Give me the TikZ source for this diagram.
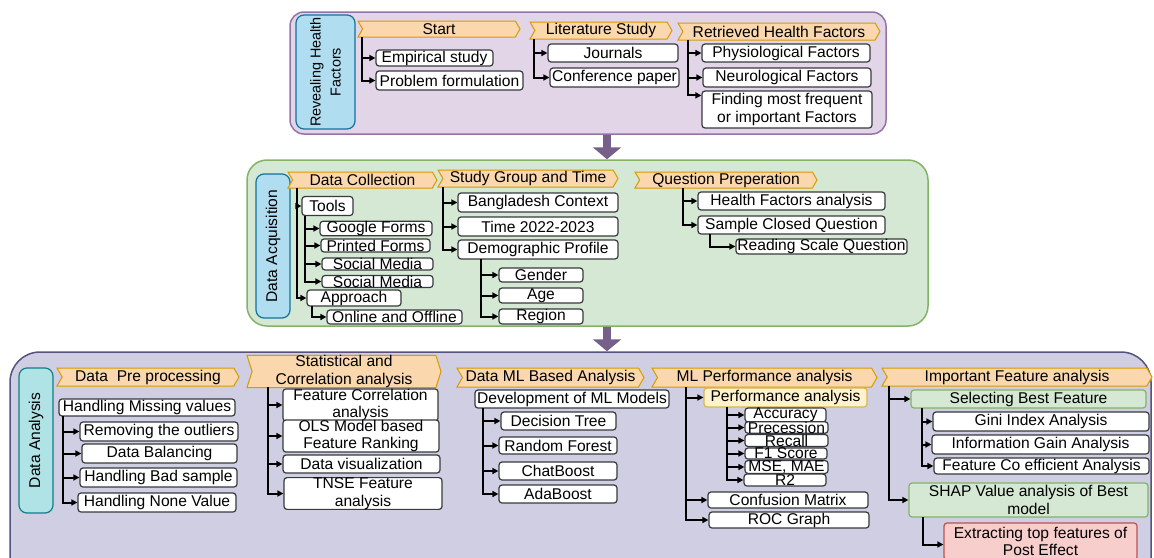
\documentclass[tikz,border=0pt]{standalone}
\usepackage{fontspec}
\setmainfont{Liberation Sans}
\usepackage{tikz}
\usetikzlibrary{arrows.meta,shapes.symbols}

\definecolor{revfill}{HTML}{E1D5E7}
\definecolor{revline}{HTML}{9673A6}
\definecolor{acqfill}{HTML}{D5E8D4}
\definecolor{acqline}{HTML}{82B366}
\definecolor{anafill}{HTML}{D0CEE2}
\definecolor{analine}{HTML}{56517E}
\definecolor{bluefill}{HTML}{B1DDF0}
\definecolor{blueline}{HTML}{10739E}
\definecolor{tealfill}{HTML}{B0E3E6}
\definecolor{tealline}{HTML}{0E8088}
\definecolor{hdrfill}{HTML}{FAD7AC}
\definecolor{hdrline}{HTML}{D79B00}
\definecolor{yelfill}{HTML}{FFF2CC}
\definecolor{yelline}{HTML}{D6B656}
\definecolor{redfill}{HTML}{F8CECC}
\definecolor{redline}{HTML}{B85450}
\definecolor{dnarrow}{HTML}{76608A}
\definecolor{boxline}{HTML}{36393D}

\begin{document}
\begin{tikzpicture}[x=0.5pt,y=-0.5pt,>={Triangle[length=3pt,width=3pt]},
  every node/.style={font=\fontsize{7.8}{8.8}\selectfont},
  sz/.style 2 args={minimum width=#1*0.5pt,minimum height=#2*0.5pt},
  panel/.style={line width=0.75pt,inner sep=0pt},
  side/.style={line width=0.6pt,rounded corners=4pt,rotate=90,align=center,inner sep=0pt},
  hdr/.style={shape=signal,signal from=west,signal to=east,signal pointer angle=120,
    draw=hdrline,fill=hdrfill,line width=0.5pt,inner sep=0pt,align=center},
  box/.style={draw=boxline,fill=white,line width=0.6pt,rounded corners=1.5pt,inner sep=0pt,align=center},
  tree/.style={->,line width=1pt},
  bigarrow/.style={draw=dnarrow,line width=4pt,-{Triangle[width=14pt,length=6pt]}}]

\useasboundingbox (0,0) rectangle (1154,557);

% {Revealing Health Factors};
\begin{scope}
\node[panel,draw=revline,fill=revfill,rounded corners=7pt,sz={596}{122}] (rev) at (588,73) {};
\node[side,draw=blueline,fill=bluefill,sz={114}{59},font=\fontsize{7.2}{10}\selectfont] (revlbl) at (325.5,72) {Revealing Health\\Factors};

\node[hdr,sz={162}{16}] (start) at (439,29) {Start};
\node[hdr,sz={142}{17}] (lit) at (601,30.5) {Literature Study};
\node[hdr,sz={202}{17}] (ret) at (779,31.5) {Retrieved Health Factors};

\node[box,sz={117}{16}] (emp) at (434.5,58) {Empirical study};
\node[box,sz={147}{19}] (prob) at (449.5,80.5) {Problem formulation};
\node[box,sz={130}{18}] (jour) at (613,53) {Journals};
\node[box,sz={129}{19}] (conf) at (614.5,77.5) {Conference paper};
\node[box,sz={168}{18}] (phys) at (786,53) {Physiological Factors};
\node[box,sz={168}{19}] (neur) at (787,77.5) {Neurological Factors};
\node[box,sz={170}{37}] (find) at (787,109.5) {Finding most frequent\\or important Factors};

\coordinate (startdn) at (362,37);
\coordinate (litdn) at (534,39);
\coordinate (retdn) at (688,40);
\draw[tree] (startdn) |- (emp.west);
\draw[tree] (startdn) |- (prob.west);
\draw[tree] (litdn) |- (jour.west);
\draw[tree] (litdn) |- (conf.west);
\draw[tree] (retdn) |- (phys.west);
\draw[tree] (retdn) |- (neur.west);
\draw[tree] (retdn) |- ([yshift=-2.5pt]find.north west);
\end{scope}

% {Data Acquisition};
\begin{scope}
\node[panel,draw=acqline,fill=acqfill,rounded corners=10pt,sz={681}{166}] (acq) at (587.5,243) {};
\node[side,draw=blueline,fill=bluefill,sz={144}{34}] (acqlbl) at (273,246) {Data Acquisition};

\node[hdr,sz={149}{16}] (coll) at (362.5,180) {Data Collection};
\node[hdr,sz={180}{17}] (group) at (528,178.5) {Study Group and Time};
\node[hdr,sz={182}{16}] (quest) at (726,180) {Question Preperation};

\node[box,sz={51}{19}] (tools) at (327.5,206) {Tools};
\node[box,sz={112}{13}] (gform) at (376,228.5) {Google Forms};
\node[box,sz={109}{13}] (pform) at (375.5,245.5) {Printed Forms};
\node[box,sz={111}{12}] (smedia) at (377.5,264) {Social Media};
\node[box,sz={111}{12}] (smediab) at (377.5,281.5) {Social Media};
\node[box,sz={94}{16}] (appr) at (354,298) {Approach};
\node[box,sz={135}{14}] (online) at (394.5,317) {Online and Offline};

\node[box,sz={160}{19}] (bdctx) at (538,202.5) {Bangladesh Context};
\node[box,sz={160}{19}] (time) at (538,226.5) {Time 2022-2023};
\node[box,sz={160}{19}] (demo) at (538,249.5) {Demographic Profile};
\node[box,sz={84}{14}] (gender) at (541,275) {Gender};
\node[box,sz={84}{15}] (age) at (541,295.5) {Age};
\node[box,sz={84}{15}] (region) at (541,316.5) {Region};

\node[box,sz={187}{18}] (hfa) at (791.5,201) {Health Factors analysis};
\node[box,sz={187}{18}] (closed) at (791.5,225) {Sample Closed Question};
\node[box,sz={171}{15}] (scale) at (821.5,246.5) {Reading Scale Question};

\coordinate (colldn) at (297,188);
\coordinate (toolsdn) at (305,215.5);
\coordinate (apprdn) at (312,306);
\coordinate (groupdn) at (443,187);
\coordinate (demodn) at (481,259);
\coordinate (questdn) at (683,188);
\coordinate (closeddn) at (710,234);
\draw[tree] (colldn) |- (tools.west);
\draw[tree] (colldn) |- (appr.west);
\draw[tree] (toolsdn) |- (gform.west);
\draw[tree] (toolsdn) |- (pform.west);
\draw[tree] (toolsdn) |- (smedia.west);
\draw[tree] (toolsdn) |- (smediab.west);
\draw[tree] (apprdn) |- (online.west);
\draw[tree] (groupdn) |- (bdctx.west);
\draw[tree] (groupdn) |- (time.west);
\draw[tree] (groupdn) |- (demo.west);
\draw[tree] (demodn) |- (gender.west);
\draw[tree] (demodn) |- (age.west);
\draw[tree] (demodn) |- (region.west);
\draw[tree] (questdn) |- (hfa.west);
\draw[tree] (questdn) |- (closed.west);
\draw[tree] (closeddn) |- (scale.west);
\end{scope}

% {Data Analysis};
\begin{scope}
\node[panel,draw=analine,fill=anafill,rounded corners=15pt,sz={1141}{248}] (ana) at (580.5,476) {};
\node[side,draw=tealline,fill=tealfill,sz={145}{34}] (analbl) at (36,440.5) {Data Analysis};

\node[hdr,sz={182}{18}] (prep) at (148,377) {Data\ \ Pre processing};
\node[hdr,signal pointer angle=145,sz={194}{31}] (stat) at (344,371.5) {Statistical and\\Correlation analysis};
\node[hdr,sz={187}{19}] (mlana) at (550.5,377.5) {Data ML Based Analysis};
\node[hdr,sz={225}{19}] (mlperf) at (764.5,377.5) {ML Performance analysis};
\node[hdr,sz={270}{18}] (imp) at (1017,377) {Important Feature analysis};

\node[box,sz={176}{17}] (missing) at (147,407.5) {Handling Missing values};
\node[box,sz={158}{19}] (outlier) at (159,431.5) {Removing the outliers};
\node[box,sz={155}{19}] (balance) at (159.5,453.5) {Data Balancing};
\node[box,sz={157}{19}] (bad) at (158.5,477.5) {Handling Bad sample};
\node[box,sz={158}{19}] (none) at (157,502.5) {Handling None Value};

\node[box,sz={155}{28}] (corr) at (360.5,405) {Feature Correlation\\analysis};
\node[box,sz={156}{28}] (ols) at (361,436) {OLS Model based\\Feature Ranking};
\node[box,sz={157}{18}] (visual) at (361.5,464) {Data visualization};
\node[box,sz={158}{31}] (tnse) at (363,493.5) {TNSE Feature\\analysis};

\node[box,sz={194}{18}] (dev) at (572,399) {Development of ML Models};
\node[box,sz={115}{18}] (dtree) at (558.5,421) {Decision Tree};
\node[box,sz={118}{17}] (rforest) at (558,445.5) {Random Forest};
\node[box,sz={118}{18}] (chat) at (558,471) {ChatBoost};
\node[box,sz={118}{18}] (ada) at (558,494) {AdaBoost};

\node[box,draw=yelline,fill=yelfill,sz={163}{19}] (perf) at (785.5,397.5) {Performance analysis};
\node[box,sz={81}{12}] (acc) at (785.5,415) {Accuracy};
\node[box,sz={83}{11}] (prec) at (786.5,427.5) {Precession};
\node[box,sz={83}{12}] (recall) at (786.5,440.5) {Recall};
\node[box,sz={82}{11}] (fscore) at (786,453.5) {F1 Score};
\node[box,sz={83}{11}] (mse) at (786.5,467) {MSE, MAE};
\node[box,sz={82}{12}] (rsq) at (785,480) {R2};
\node[box,sz={160}{16}] (conf) at (788,500) {Confusion Matrix};
\node[box,sz={160}{16}] (roc) at (789,520) {ROC Graph};

\node[box,draw=acqline,fill=acqfill,sz={235}{18}] (best) at (1028.5,399) {Selecting Best Feature};
\node[box,sz={216}{19}] (gini) at (1041,421.5) {Gini Index Analysis};
\node[box,sz={217}{19}] (gain) at (1040.5,444.5) {Information Gain Analysis};
\node[box,sz={215}{16}] (coef) at (1041.5,466) {Feature Co efficient Analysis};
\node[box,draw=acqline,fill=acqfill,sz={239}{34}] (shap) at (1028.5,500) {SHAP Value analysis of Best\\model};
\node[box,draw=redline,fill=redfill,sz={193}{37}] (top) at (1040.5,541.5) {Extracting top features of\\Post Effect};

\coordinate (missingdn) at (63,416);
\coordinate (statdn) at (268,387);
\coordinate (devdn) at (483,408);
\coordinate (mlperfdn) at (686,387);
\coordinate (perfdn) at (727,407);
\coordinate (impdn) at (889,386);
\coordinate (bestdn) at (922,408);
\coordinate (shapdn) at (923,517);
\draw[tree] (missingdn) |- (outlier.west);
\draw[tree] (missingdn) |- (balance.west);
\draw[tree] (missingdn) |- (bad.west);
\draw[tree] (missingdn) |- (none.west);
\draw[tree] (statdn) |- (corr.west);
\draw[tree] (statdn) |- (ols.west);
\draw[tree] (statdn) |- (visual.west);
\draw[tree] (statdn) |- (tnse.west);
\draw[tree] (devdn) |- (dtree.west);
\draw[tree] (devdn) |- (rforest.west);
\draw[tree] (devdn) |- (chat.west);
\draw[tree] (devdn) |- (ada.west);
\draw[tree] (mlperfdn) |- (perf.west);
\draw[tree] (mlperfdn) |- (conf.west);
\draw[tree] (mlperfdn) |- (roc.west);
\draw[tree] (perfdn) |- (acc.west);
\draw[tree] (perfdn) |- (prec.west);
\draw[tree] (perfdn) |- (recall.west);
\draw[tree] (perfdn) |- (fscore.west);
\draw[tree] (perfdn) |- (mse.west);
\draw[tree] (perfdn) |- (rsq.west);
\draw[tree] (impdn) |- (best.west);
\draw[tree] (impdn) |- (shap.west);
\draw[tree] (bestdn) |- (gini.west);
\draw[tree] (bestdn) |- (gain.west);
\draw[tree] (bestdn) |- (coef.west);
\draw[tree] (shapdn) |- ([yshift=-1.5pt]top.west);
\end{scope}

% {down arrows};
\coordinate (dncol) at (607,0);
\draw[bigarrow] (rev.south -| dncol) -- (acq.north -| dncol);
\draw[bigarrow] (acq.south -| dncol) -- (ana.north -| dncol);

\end{tikzpicture}
\end{document}
